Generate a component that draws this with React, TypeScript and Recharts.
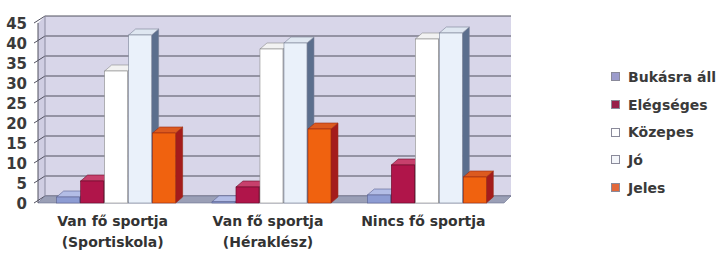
import React from 'react';
import { BarChart, Bar, XAxis, YAxis, ReferenceArea } from 'recharts';

const categories = ['Van fő sportja|(Sportiskola)', 'Van fő sportja|(Héraklész)', 'Nincs fő sportja'];
const seriesNames = ['Bukásra áll', 'Elégséges', 'Közepes', 'Jó', 'Jeles'];
const bukasraAll = [1.5, 0.3, 2];
const elegseges = [5.5, 4, 9.5];
const kozepes = [33, 38.5, 41];
const jo = [42, 40, 42.5];
const jeles = [17.5, 18.5, 6.5];
const yTicks = [0, 5, 10, 15, 20, 25, 30, 35, 40, 45];

const seriesValues = [bukasraAll, elegseges, kozepes, jo, jeles];
const keys = ['s0', 's1', 's2', 's3', 's4'];

const data = categories.map((c, i) => {
  const row: any = { name: c };
  seriesValues.forEach((vals, k) => { row[keys[k]] = vals[i]; });
  return row;
});

const palette = [
  { front: '#8d9cd3', top: '#b3bde6', side: '#5d6aa3', stroke: '#5a6290', legend: '#9c9ccc' },
  { front: '#b0154a', top: '#c7406c', side: '#7a0c30', stroke: '#6a0a28', legend: '#98204a' },
  { front: '#ffffff', top: '#f2f2f2', side: '#c8c8d0', stroke: '#8a8a8a', legend: '#ffffff' },
  { front: '#eaf1fa', top: '#dfe7f1', side: '#5c6f8d', stroke: '#7a8296', legend: '#f4f6fa' },
  { front: '#f0620f', top: '#dc5a1f', side: '#a41c1c', stroke: '#9a2a10', legend: '#e2683a' },
];

const DX = 7;
const DY = 7;
const BDX = 7;
const BDY = 6;

const makeShape = (c: any) => (props: any) => {
  const { x, y, width, height } = props;
  if (width == null || height == null) return null;
  const r = x + width;
  const b = y + height;
  return (
    <g>
      <polygon
        points={`${r},${y} ${r + BDX},${y - BDY} ${r + BDX},${b - BDY} ${r},${b}`}
        fill={c.side}
        stroke={c.stroke}
        strokeWidth={0.6}
      />
      <polygon
        points={`${x},${y} ${x + BDX},${y - BDY} ${r + BDX},${y - BDY} ${r},${y}`}
        fill={c.top}
        stroke={c.stroke}
        strokeWidth={0.6}
      />
      <rect x={x} y={y} width={width} height={height} fill={c.front} stroke={c.stroke} strokeWidth={0.6} />
    </g>
  );
};

const WallShape = (props: any) => {
  const { x, y, width, height } = props;
  const b = y + height;
  const r = x + width;
  const lines = yTicks.map((t) => {
    const ly = y + height * (1 - t / 45);
    return (
      <line key={t} x1={x + DX} y1={ly - DY} x2={r + DX} y2={ly - DY} stroke="#50505f" strokeWidth={1} />
    );
  });
  const diag = yTicks.map((t) => {
    const ly = y + height * (1 - t / 45);
    return <line key={'d' + t} x1={x - 4} y1={ly} x2={x + DX} y2={ly - DY} stroke="#50505f" strokeWidth={1} />;
  });
  return (
    <g>
      <rect x={x + DX} y={y - DY} width={width} height={height} fill="#d8d6e9" />
      <polygon points={`${x},${y} ${x + DX},${y - DY} ${x + DX},${b - DY} ${x},${b}`} fill="#d0cee3" />
      {lines}
      {diag}
      <polygon points={`${x},${b} ${x + DX},${b - DY} ${r + DX},${b - DY} ${r},${b}`} fill="#9a9fb6" stroke="#6c7290" strokeWidth={0.6} />
      <line x1={x + DX} y1={y - DY} x2={x + DX} y2={b - DY} stroke="#8a8aa0" strokeWidth={1} />
      <line x1={x} y1={y} x2={x} y2={b} stroke="#50505f" strokeWidth={1} />
    </g>
  );
};

const YTick = (props: any) => {
  const { x, y, payload } = props;
  return (
    <text
      x={x - 3}
      y={y}
      dy={6}
      textAnchor="end"
      fill="#3a3a3a"
      fontFamily="DejaVu Sans"
      fontWeight="bold"
      fontSize={15}
    >
      {payload.value}
    </text>
  );
};

const XTick = (props: any) => {
  const { x, y, payload } = props;
  const parts = String(payload.value).split('|');
  return (
    <text
      x={x - 3}
      y={y}
      textAnchor="middle"
      fill="#333333"
      fontFamily="DejaVu Sans"
      fontWeight="bold"
      fontSize={14}
    >
      {parts.map((p, i) => (
        <tspan key={i} x={x - 3} y={y + 15 + i * 21}>
          {p}
        </tspan>
      ))}
    </text>
  );
};

export default function App() {
  return (
    <div style={{ position: 'absolute', left: 0, top: 0, width: 718, height: 256, background: '#ffffff' }}>
      <BarChart
        width={718}
        height={256}
        data={data}
        margin={{ top: 23, right: 214, bottom: 0, left: 0 }}
        barCategoryGap="12%"
        barGap={1}
      >
        <XAxis dataKey="name" axisLine={false} tickLine={false} height={53} tick={<XTick />} interval={0} />
        <YAxis
          width={38}
          domain={[0, 45]}
          ticks={yTicks}
          interval={0}
          axisLine={false}
          tickLine={false}
          tick={<YTick />}
        />
        <ReferenceArea y1={0} y2={45} shape={<WallShape />} ifOverflow="visible" />
        {keys.map((k, i) => (
          <Bar key={k} dataKey={k} name={seriesNames[i]} isAnimationActive={false} shape={makeShape(palette[i])} />
        ))}
      </BarChart>
      <div style={{ position: 'absolute', left: 611, top: 63 }}>
        {seriesNames.map((n, i) => (
          <div
            key={n}
            style={{
              display: 'flex',
              alignItems: 'center',
              height: 27.7,
              fontFamily: 'DejaVu Sans',
              fontWeight: 'bold',
              fontSize: 14,
              color: '#3a3a3a',
              whiteSpace: 'nowrap',
            }}
          >
            <span
              style={{
                display: 'inline-block',
                width: 7,
                height: 7,
                background: palette[i].legend,
                border: '1px solid #8a8a9a',
                marginRight: 8,
              }}
            />
            {n}
          </div>
        ))}
      </div>
    </div>
  );
}
